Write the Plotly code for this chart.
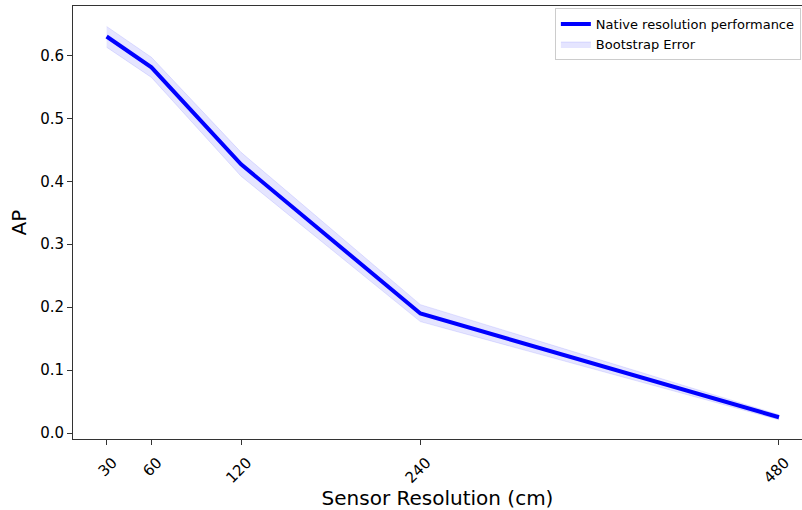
import plotly.graph_objects as go

# Sensor resolution (cm) and average precision with bootstrap bounds
resolution = [30, 60, 120, 240, 480]
ap = [0.630, 0.581, 0.427, 0.190, 0.025]
ap_lower = [0.613, 0.565, 0.408, 0.177, 0.021]
ap_upper = [0.646, 0.597, 0.446, 0.204, 0.029]
tick_labels = ["30", "60", "120", "240", "480"]

band_fill = "rgba(0,0,255,0.1)"
font_family = "DejaVu Sans"

fig = go.Figure()

# Bootstrap error band
fig.add_trace(go.Scatter(
    x=resolution, y=ap_lower, mode="lines",
    line=dict(color=band_fill, width=1),
    showlegend=False, hoverinfo="skip",
))
fig.add_trace(go.Scatter(
    x=resolution, y=ap_upper, mode="lines",
    line=dict(color=band_fill, width=1),
    fill="tonexty", fillcolor=band_fill,
    name="Bootstrap Error",
))

# Main AP curve
fig.add_trace(go.Scatter(
    x=resolution, y=ap, mode="lines",
    line=dict(color="#0000ff", width=4),
    name="Native resolution performance",
))

fig.update_layout(
    width=802, height=510,
    margin=dict(l=73, r=0, t=6, b=71),
    paper_bgcolor="white", plot_bgcolor="white",
    font=dict(family=font_family, color="black", size=15),
    legend=dict(
        x=0.661, y=0.995, xanchor="left", yanchor="top",
        bgcolor="rgba(255,255,255,0.8)", bordercolor="#cccccc", borderwidth=1,
        font=dict(size=13, family=font_family),
        traceorder="reversed", itemwidth=30, tracegroupgap=0,
    ),
    xaxis=dict(
        range=[7.5, 495.4],
        tickmode="array", tickvals=resolution, ticktext=tick_labels,
        tickangle=-45, ticks="outside", ticklen=5, tickcolor="#333",
        ticklabelshift=6, ticklabelstandoff=3,
        showline=True, linecolor="#333", linewidth=1, mirror=True,
        showgrid=False, zeroline=False,
        title=dict(text="Sensor Resolution (cm)", font=dict(size=20), standoff=4),
        tickfont=dict(size=15),
    ),
    yaxis=dict(
        range=[-0.0095, 0.6785],
        tickmode="array", tickvals=[0.0, 0.1, 0.2, 0.3, 0.4, 0.5, 0.6],
        tickformat=".1f",
        ticks="outside", ticklen=5, tickcolor="#333",
        showline=True, linecolor="#333", linewidth=1, mirror=False,
        showgrid=False, zeroline=False,
        title=dict(text="AP", font=dict(size=20), standoff=8),
        tickfont=dict(size=15),
    ),
)

fig.write_html("out.html")
